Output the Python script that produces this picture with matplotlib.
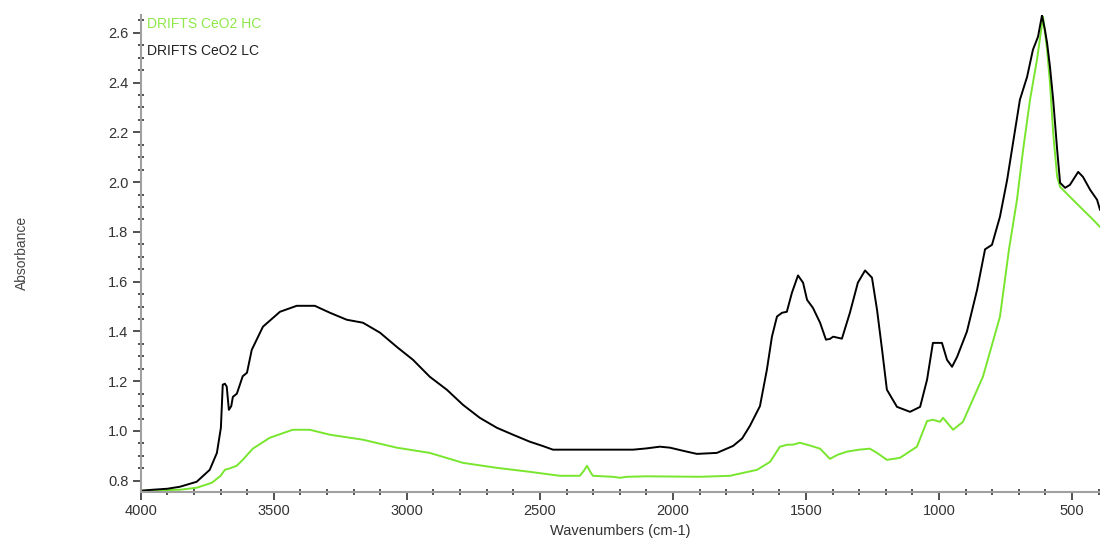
import numpy as np
import matplotlib
matplotlib.use("Agg")
import matplotlib.pyplot as plt
from matplotlib.ticker import MultipleLocator

# DRIFTS CeO2 LC (black)
lc_wn = [4000, 3955, 3900, 3853, 3790, 3741, 3714, 3699, 3692, 3684, 3677, 3669,
         3660, 3654, 3639, 3617, 3601, 3583, 3541, 3477, 3414, 3346, 3289, 3226,
         3165, 3101, 3038, 2977, 2914, 2850, 2789, 2726, 2662, 2601, 2538, 2490,
         2451, 2150, 2100, 2049, 2011, 1960, 1910, 1835, 1774, 1740, 1711, 1673,
         1647, 1628, 1609, 1590, 1572, 1553, 1530, 1511, 1496, 1474, 1447, 1425,
         1410, 1398, 1365, 1335, 1305, 1278, 1252, 1233, 1214, 1196, 1158, 1109,
         1071, 1045, 1023, 989, 970, 951, 932, 895, 857, 827, 801, 771, 744, 726,
         696, 669, 647, 628, 613, 602, 594, 583, 571, 556, 545, 526, 508, 477,
         459, 432, 406, 395]
lc_abs = [0.760, 0.764, 0.768, 0.776, 0.796, 0.844, 0.912, 1.013, 1.186, 1.190, 1.178, 1.085,
          1.100, 1.137, 1.150, 1.220, 1.234, 1.326, 1.419, 1.479, 1.503, 1.503, 1.475, 1.447,
          1.435, 1.395, 1.338, 1.286, 1.218, 1.166, 1.105, 1.053, 1.013, 0.985, 0.957, 0.940,
          0.925, 0.925, 0.930, 0.937, 0.933, 0.920, 0.908, 0.912, 0.940, 0.970, 1.020, 1.100,
          1.246, 1.379, 1.460, 1.475, 1.479, 1.555, 1.625, 1.596, 1.527, 1.495, 1.435, 1.367,
          1.370, 1.379, 1.371, 1.475, 1.596, 1.645, 1.616, 1.487, 1.326, 1.166, 1.097, 1.077,
          1.097, 1.206, 1.354, 1.354, 1.286, 1.258, 1.298, 1.400, 1.567, 1.730, 1.748, 1.861, 2.009, 2.130,
          2.331, 2.423, 2.532, 2.584, 2.670, 2.612, 2.560, 2.463, 2.331, 2.130, 1.997, 1.977, 1.989, 2.041,
          2.021, 1.969, 1.929, 1.889]

# DRIFTS CeO2 HC (green)
hc_wn = [4000, 3853, 3790, 3733, 3700, 3684, 3665, 3640, 3617, 3579, 3515, 3429,
         3365, 3289, 3165, 3038, 2914, 2789, 2662, 2538, 2425, 2350, 2335, 2323,
         2310, 2301, 2226, 2199, 2173, 2100, 1898, 1786, 1684, 1635, 1598, 1570,
         1549, 1523, 1480, 1447, 1410, 1380, 1346, 1300, 1260, 1230, 1196, 1147,
         1083, 1045, 1023, 996, 985, 947, 910, 835, 771, 737, 707, 684, 658, 632,
         609, 594, 583, 571, 556, 545, 508, 459, 421, 395]
hc_abs = [0.760, 0.764, 0.772, 0.792, 0.820, 0.844, 0.850, 0.860, 0.884, 0.929, 0.973, 1.005,
          1.005, 0.985, 0.965, 0.933, 0.912, 0.872, 0.852, 0.836, 0.820, 0.820, 0.840, 0.860,
          0.835, 0.820, 0.816, 0.812, 0.816, 0.818, 0.816, 0.820, 0.844, 0.876, 0.937, 0.945,
          0.945, 0.953, 0.940, 0.929, 0.888, 0.905, 0.917, 0.925, 0.929, 0.910, 0.884, 0.892,
          0.937, 1.040, 1.045, 1.037, 1.053, 1.005, 1.037, 1.218, 1.459, 1.730, 1.929, 2.130, 2.331, 2.491,
          2.664, 2.532, 2.399, 2.198, 2.021, 1.981, 1.941, 1.889, 1.849, 1.820]

green = '#78e62e'
plt.rcParams['font.family'] = ['Liberation Sans', 'DejaVu Sans']

fig = plt.figure(figsize=(11, 5.5), dpi=100)
ax = fig.add_axes([0.128, 0.1055, 0.872, 0.8675])

ax.plot(hc_wn, hc_abs, color=green, lw=1.4)
ax.plot(lc_wn, lc_abs, color='black', lw=1.4)

ax.set_xlim(4000, 395)
ax.set_ylim(0.755, 2.672)
ax.xaxis.set_major_locator(MultipleLocator(500))
ax.xaxis.set_minor_locator(MultipleLocator(100))
ax.yaxis.set_major_locator(MultipleLocator(0.2))
ax.yaxis.set_minor_locator(MultipleLocator(0.05))
ax.yaxis.set_major_formatter(matplotlib.ticker.FormatStrFormatter('%.1f'))

for s in ['top', 'right']:
    ax.spines[s].set_visible(False)
for s in ['left', 'bottom']:
    ax.spines[s].set_color('#a0a0a0')
    ax.spines[s].set_linewidth(1.5)

ax.tick_params(which='major', direction='out', length=6, width=1.2, color='#333333',
               labelsize=10.5, labelcolor='#333333', pad=3)
ax.tick_params(which='minor', direction='inout', length=4, width=1.2, color='#333333')

ax.set_xlabel('Wavenumbers (cm-1)', fontsize=10.5, color='#333333', labelpad=4)
fig.text(0.02, 0.54, 'Absorbance', rotation=90, fontsize=10, color='#444444',
         ha='center', va='center')

ax.text(0.006, 0.995, 'DRIFTS CeO2 HC', transform=ax.transAxes, color='#8ee84a',
        fontsize=10, va='top', ha='left')
ax.text(0.006, 0.938, 'DRIFTS CeO2 LC', transform=ax.transAxes, color='#222222',
        fontsize=10, va='top', ha='left')

fig.savefig('out.png', dpi=100)
